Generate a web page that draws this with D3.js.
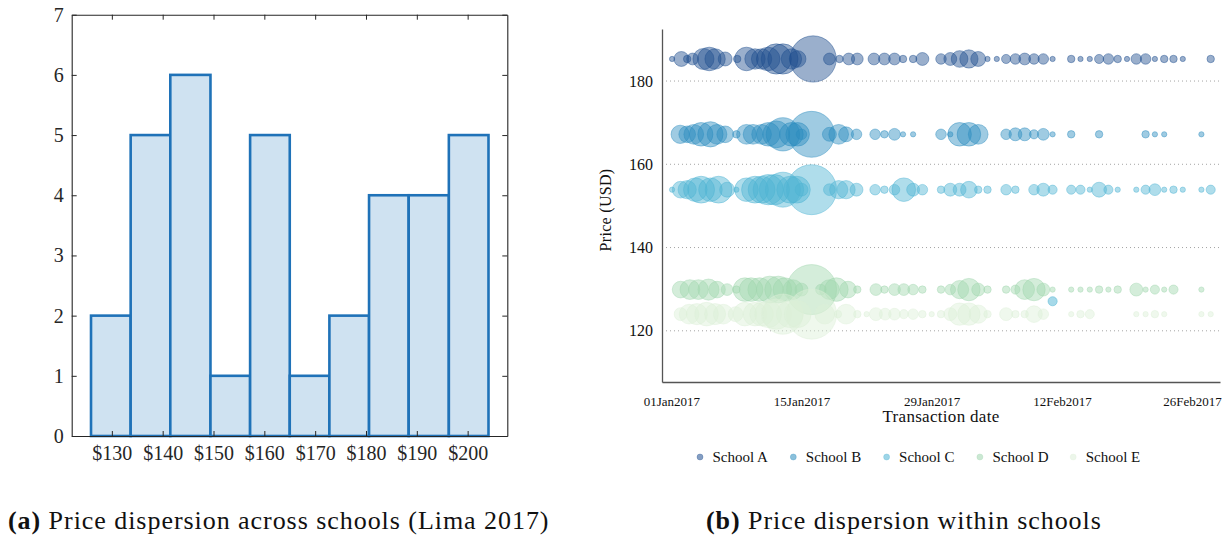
<!DOCTYPE html>
<html>
<head>
<meta charset="utf-8">
<script src="https://cdn.jsdelivr.net/npm/d3@7"></script>
<style>
  body { margin: 0; background: #fff; }
  svg { display: block; font-family: "Liberation Serif", "DejaVu Serif", serif; }
</style>
</head>
<body>
<svg id="chart" width="1231" height="539"></svg>
<script>
// ---------- Panel (a): price histogram across schools ----------
const histBinEdges = [125.9, 133.7, 141.5, 149.4, 157.2, 165.0, 172.8, 180.6, 188.4, 196.3, 204.1];
const histCounts = [2, 5, 6, 1, 5, 1, 2, 4, 4, 5];
const histPriceTicks = [130, 140, 150, 160, 170, 180, 190, 200];
const histCountTicks = [0, 1, 2, 3, 4, 5, 6, 7];

// ---------- Panel (b): transactions by school ----------
const schools = ["School A", "School B", "School C", "School D", "School E"];
const schoolColors = ["#1f4e8f", "#2b8cbe", "#4eb3d3", "#a0d6ae", "#dcefd8"];
const schoolPrices = [185.3, 167.2, 153.9, 129.9, 124.0];

// [transaction time, number of transactions]
const schoolA = [
  ["2017-01-01T02",1],["2017-01-02T02",8],["2017-01-02T17",2],["2017-01-03T07",5],["2017-01-04T11",16],
  ["2017-01-05T02",20],["2017-01-05T17",15],["2017-01-06T19",7],["2017-01-08T02",2],["2017-01-09T02",20],
  ["2017-01-10T00",15],["2017-01-10T17",15],["2017-01-11T10",20],["2017-01-12T07",33],["2017-01-13T00",33],
  ["2017-01-13T22",15],["2017-01-14T14",10],["2017-01-16T06",77],["2017-01-18T00",5],["2017-01-19T02",2],
  ["2017-01-20T02",5],["2017-01-21T00",5],["2017-01-22T19",5],["2017-01-23T22",5],["2017-01-25T00",5],
  ["2017-01-25T22",2],["2017-01-27T00",2],["2017-01-28T00",6],["2017-01-30T00",4],["2017-01-31T00",6],
  ["2017-02-01T00",10],["2017-02-02T00",12],["2017-02-03T00",8],["2017-02-04T00",1],["2017-02-05T00",1],
  ["2017-02-06T00",3],["2017-02-07T00",4],["2017-02-08T00",5],["2017-02-09T00",4],["2017-02-10T00",4],
  ["2017-02-11T00",1],["2017-02-13T00",2],["2017-02-14T00",1],["2017-02-15T00",1],["2017-02-16T00",3],
  ["2017-02-17T00",4],["2017-02-18T00",2],["2017-02-19T00",1],["2017-02-20T00",4],["2017-02-21T00",4],
  ["2017-02-22T00",1],["2017-02-23T00",2],["2017-02-24T00",2],["2017-02-25T00",1],["2017-02-28T00",2]
];
const schoolB = [
  ["2017-01-01T23",12],["2017-01-02T17",10],["2017-01-03T10",14],["2017-01-04T05",20],["2017-01-05T05",23],
  ["2017-01-05T22",14],["2017-01-06T19",10],["2017-01-08T00",2],["2017-01-09T02",14],["2017-01-09T19",14],
  ["2017-01-10T17",14],["2017-01-11T10",20],["2017-01-12T07",26],["2017-01-13T00",40],["2017-01-13T22",20],
  ["2017-01-14T14",20],["2017-01-15T00",4],["2017-01-16T02",76],["2017-01-18T00",7],["2017-01-19T00",14],
  ["2017-01-19T19",8],["2017-01-20T22",4],["2017-01-22T22",4],["2017-01-23T22",2],["2017-01-25T00",5],
  ["2017-01-25T22",1],["2017-01-27T00",1],["2017-01-30T00",4],["2017-01-31T00",1],["2017-02-01T00",20],
  ["2017-02-02T00",20],["2017-02-03T00",14],["2017-02-06T00",4],["2017-02-07T00",6],["2017-02-08T00",6],
  ["2017-02-09T00",3],["2017-02-10T00",5],["2017-02-11T00",1],["2017-02-13T00",2],["2017-02-16T00",2],
  ["2017-02-21T00",2],["2017-02-22T00",1],["2017-02-23T00",1],["2017-02-27T00",1]
];
const schoolC = [
  ["2017-01-01T02",1],["2017-01-02T00",10],["2017-01-02T17",12],["2017-01-03T14",20],["2017-01-04T05",26],
  ["2017-01-05T05",20],["2017-01-06T02",26],["2017-01-07T00",8],["2017-01-08T00",1],["2017-01-09T02",20],
  ["2017-01-10T00",26],["2017-01-10T17",26],["2017-01-11T10",33],["2017-01-12T02",33],["2017-01-13T00",44],
  ["2017-01-13T19",26],["2017-01-14T12",26],["2017-01-15T00",6],["2017-01-16T02",90],["2017-01-18T00",5],
  ["2017-01-19T00",12],["2017-01-19T19",12],["2017-01-20T22",6],["2017-01-22T22",4],["2017-01-23T22",2],
  ["2017-01-25T00",4],["2017-01-26T00",20],["2017-01-27T00",6],["2017-01-28T00",4],["2017-01-30T00",2],
  ["2017-01-31T00",6],["2017-02-01T00",6],["2017-02-02T00",10],["2017-02-03T00",2],["2017-02-04T00",2],
  ["2017-02-06T00",4],["2017-02-07T00",2],["2017-02-09T00",4],["2017-02-10T00",6],["2017-02-11T00",3],
  ["2017-02-13T00",3],["2017-02-14T00",3],["2017-02-15T00",1],["2017-02-16T00",8],["2017-02-17T00",3],
  ["2017-02-18T00",1],["2017-02-20T00",1],["2017-02-21T00",3],["2017-02-22T00",5],["2017-02-23T00",1],
  ["2017-02-24T00",2],["2017-02-25T00",1],["2017-02-27T00",1],["2017-02-28T00",3]
];
const schoolD = [
  ["2017-01-02T00",10],["2017-01-03T00",14],["2017-01-03T22",14],["2017-01-05T00",16],["2017-01-05T22",10],
  ["2017-01-07T00",5],["2017-01-08T00",2],["2017-01-08T22",20],["2017-01-09T14",20],["2017-01-10T12",20],
  ["2017-01-11T14",26],["2017-01-12T12",26],["2017-01-13T05",20],["2017-01-14T02",14],["2017-01-15T00",6],
  ["2017-01-16T02",90],["2017-01-17T02",4],["2017-01-18T00",14],["2017-01-18T18",20],["2017-01-20T00",10],
  ["2017-01-21T00",2],["2017-01-23T00",5],["2017-01-23T22",2],["2017-01-25T00",5],["2017-01-26T00",5],
  ["2017-01-27T00",4],["2017-01-28T00",2],["2017-01-30T00",2],["2017-01-31T00",4],["2017-02-01T00",12],
  ["2017-02-02T00",18],["2017-02-03T00",6],["2017-02-04T00",2],["2017-02-06T00",2],["2017-02-07T00",3],
  ["2017-02-08T00",14],["2017-02-09T00",18],["2017-02-10T00",6],["2017-02-11T00",1],["2017-02-13T00",1],
  ["2017-02-14T00",1],["2017-02-15T00",1],["2017-02-16T00",2],["2017-02-17T00",1],["2017-02-18T00",2],
  ["2017-02-20T00",6],["2017-02-21T00",1],["2017-02-22T00",3],["2017-02-23T00",1],["2017-02-24T00",3],
  ["2017-02-27T00",1]
];
const schoolE = [
  ["2017-01-02T00",6],["2017-01-02T22",14],["2017-01-03T18",16],["2017-01-04T19",20],["2017-01-05T17",16],
  ["2017-01-06T14",14],["2017-01-07T22",8],["2017-01-08T22",20],["2017-01-10T00",20],["2017-01-10T17",20],
  ["2017-01-11T10",26],["2017-01-12T07",33],["2017-01-13T00",58],["2017-01-13T18",26],["2017-01-14T14",26],
  ["2017-01-16T02",90],["2017-01-17T12",14],["2017-01-18T22",2],["2017-01-19T19",14],["2017-01-21T00",2],
  ["2017-01-22T00",1],["2017-01-23T00",6],["2017-01-24T00",5],["2017-01-25T00",5],["2017-01-26T00",3],
  ["2017-01-27T00",4],["2017-01-28T00",2],["2017-01-29T00",1],["2017-01-30T00",2],["2017-01-31T00",6],
  ["2017-02-01T00",18],["2017-02-02T00",18],["2017-02-03T00",12],["2017-02-04T00",2],["2017-02-06T00",6],
  ["2017-02-07T00",2],["2017-02-08T00",2],["2017-02-09T00",10],["2017-02-10T00",4],["2017-02-13T00",1],
  ["2017-02-14T00",2],["2017-02-15T00",3],["2017-02-20T00",1],["2017-02-21T00",1],["2017-02-22T00",2],
  ["2017-02-23T00",1],["2017-02-27T00",1],["2017-02-28T00",1]
];
const schoolSeries = [schoolA, schoolB, schoolC, schoolD, schoolE];
// one School C sale away from its usual price: [school, time, price, transactions]
const offPriceSales = [["School C", "2017-02-11T00", 127.1, 3]];

const dateTicks = ["2017-01-01", "2017-01-15", "2017-01-29", "2017-02-12", "2017-02-26"];
const priceTicks = [120, 140, 160, 180];

const svg = d3.select("#chart");
const ink = "#262626";
const serif = "Liberation Serif, DejaVu Serif, serif";

// ================= Panel (a) =================
const hx = d3.scaleLinear().domain([122.1, 207.8]).range([71.7, 507.3]);
const hy = d3.scaleLinear().domain([0, 7]).range([436, 14.7]);
const ga = svg.append("g");

const bins = histCounts.map((c, i) => ({ x0: histBinEdges[i], x1: histBinEdges[i + 1], n: c }));
ga.selectAll("rect.bar").data(bins).join("rect")
  .attr("class", "bar")
  .attr("x", d => hx(d.x0))
  .attr("y", d => hy(d.n))
  .attr("width", d => hx(d.x1) - hx(d.x0))
  .attr("height", d => hy(0) - hy(d.n))
  .attr("fill", "#cfe2f1")
  .attr("stroke", "#1f72b8")
  .attr("stroke-width", 2.6);

function styleAxis(g, fontSize) {
  g.select(".domain").attr("stroke", ink).attr("stroke-width", 1.1);
  g.selectAll(".tick line").attr("stroke", ink).attr("stroke-width", 1);
  g.selectAll(".tick text").attr("fill", ink).attr("font-size", fontSize)
    .attr("font-family", serif);
}
ga.append("g").attr("transform", `translate(0,${hy(0)})`)
  .call(d3.axisBottom(hx).tickValues(histPriceTicks).tickFormat(d => "$" + d)
    .tickSizeInner(-5).tickSizeOuter(0).tickPadding(10))
  .call(g => styleAxis(g, 20));
ga.append("g").attr("transform", `translate(0,${hy(7)})`)
  .call(d3.axisTop(hx).tickValues(histPriceTicks).tickFormat("")
    .tickSizeInner(-5).tickSizeOuter(0))
  .call(g => styleAxis(g, 20));
ga.append("g").attr("transform", `translate(${hx.range()[0]},0)`)
  .call(d3.axisLeft(hy).tickValues(histCountTicks).tickFormat(d3.format("d"))
    .tickSizeInner(-5).tickSizeOuter(0).tickPadding(8))
  .call(g => styleAxis(g, 20));
ga.append("g").attr("transform", `translate(${hx.range()[1]},0)`)
  .call(d3.axisRight(hy).tickValues(histCountTicks).tickFormat("")
    .tickSizeInner(-5).tickSizeOuter(0))
  .call(g => styleAxis(g, 20));

// ================= Panel (b) =================
const parseTime = d3.utcParse("%Y-%m-%dT%H");
const parseDay = d3.utcParse("%Y-%m-%d");
const x = d3.scaleUtc()
  .domain([parseDay("2016-12-31"), parseDay("2017-03-01")])
  .range([662, 1220]);
const y = d3.scaleLinear().domain([107.7, 192.5]).range([382, 29]);
const r = d3.scaleSqrt().domain([0, 90]).range([0, 25]);
const gb = svg.append("g");

// dotted reference lines
gb.selectAll("line.grid").data(priceTicks).join("line")
  .attr("class", "grid")
  .attr("x1", x.range()[0]).attr("x2", x.range()[1])
  .attr("y1", d => y(d)).attr("y2", d => y(d))
  .attr("stroke", "#9a9a9a").attr("stroke-width", 0.9)
  .attr("stroke-dasharray", "1,3");

// bubbles
const bubbleLayer = gb.append("g");
schools.forEach((s, i) => {
  const pts = schoolSeries[i].map(([t, n]) => ({ t: parseTime(t), n, p: schoolPrices[i] }));
  bubbleLayer.append("g").selectAll("circle").data(pts).join("circle")
    .attr("cx", d => x(d.t))
    .attr("cy", d => y(d.p))
    .attr("r", d => r(d.n))
    .attr("fill", schoolColors[i]).attr("fill-opacity", 0.45)
    .attr("stroke", schoolColors[i]).attr("stroke-opacity", 0.55).attr("stroke-width", 0.8);
});
bubbleLayer.append("g").selectAll("circle").data(offPriceSales).join("circle")
  .attr("cx", d => x(parseTime(d[1])))
  .attr("cy", d => y(d[2]))
  .attr("r", d => r(d[3]))
  .attr("fill", d => schoolColors[schools.indexOf(d[0])])
  .attr("fill-opacity", 0.5)
  .attr("stroke", d => schoolColors[schools.indexOf(d[0])])
  .attr("stroke-opacity", 0.6).attr("stroke-width", 0.8);

// axes
const xAxis = gb.append("g").attr("transform", `translate(0,${y.range()[0]})`)
  .call(d3.axisBottom(x).tickValues(dateTicks.map(parseDay))
    .tickFormat(d3.utcFormat("%d%b%Y")).tickSize(0).tickPadding(15));
xAxis.select(".domain").attr("stroke", "#555").attr("stroke-width", 1.3);
xAxis.selectAll(".tick text").attr("fill", "#111").attr("font-size", 13)
  .attr("font-family", serif);

const yAxis = gb.append("g").attr("transform", `translate(${x.range()[0]},0)`)
  .call(d3.axisLeft(y).tickValues(priceTicks).tickSize(0).tickPadding(9));
yAxis.select(".domain").attr("stroke", "#555").attr("stroke-width", 1.3);
yAxis.selectAll(".tick text").attr("fill", "#111").attr("font-size", 16)
  .attr("font-family", serif);

gb.append("text")
  .attr("transform", "translate(611,210) rotate(-90)")
  .attr("text-anchor", "middle").attr("font-size", 16).attr("fill", "#111")
  .attr("letter-spacing", 0.3)
  .text("Price (USD)");
gb.append("text")
  .attr("x", 941).attr("y", 422)
  .attr("text-anchor", "middle").attr("font-size", 17).attr("fill", "#111")
  .attr("letter-spacing", 0.3)
  .text("Transaction date");

// legend
const legend = gb.append("g").attr("transform", "translate(700,457)");
const items = legend.selectAll("g").data(schools).join("g")
  .attr("transform", (d, i) => `translate(${i * 93.3},0)`);
items.append("circle").attr("r", 3)
  .attr("fill", (d, i) => schoolColors[i]).attr("fill-opacity", 0.55)
  .attr("stroke", (d, i) => schoolColors[i]).attr("stroke-opacity", 0.5).attr("stroke-width", 0.6);
items.append("text").attr("x", 12.5).attr("dy", "0.35em")
  .attr("font-size", 15).attr("fill", "#111").text(d => d);

// ================= captions =================
function caption(xPos, tag, body) {
  const t = svg.append("text").attr("x", xPos).attr("y", 529)
    .attr("font-size", 26).attr("fill", "#111").attr("letter-spacing", 0.95);
  t.append("tspan").attr("font-weight", "bold").text(tag);
  t.append("tspan").text(" " + body);
}
caption(8, "(a)", "Price dispersion across schools (Lima 2017)");
caption(706, "(b)", "Price dispersion within schools");
</script>
</body>
</html>
